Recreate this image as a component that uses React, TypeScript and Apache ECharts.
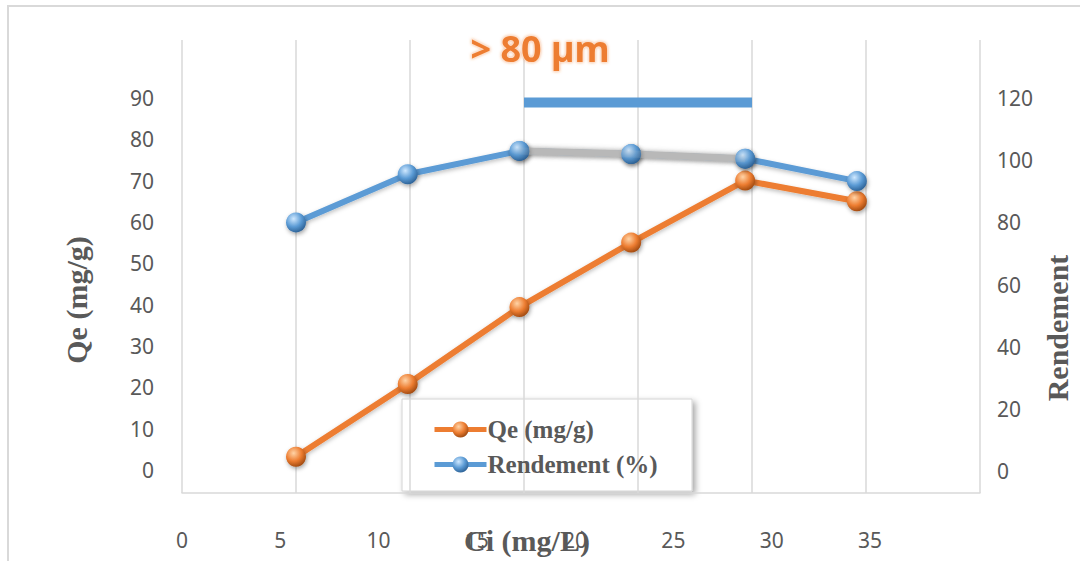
import React, { useEffect, useRef } from "react";
import * as echarts from "echarts";

const ciValues = [5, 9.9, 14.8, 19.7, 24.7, 29.6];
const qeValues = [3.2, 20.8, 39.4, 55, 70, 65];
const rendementValues = [80, 95.5, 103, 102, 100.5, 93.3];
const greySegment = [2, 3, 4]; // indices of Rendement points joined by the grey segment
const leftTicks = [0, 10, 20, 30, 40, 50, 60, 70, 80, 90];
const rightTicks = [0, 20, 40, 60, 80, 100, 120];
const xTicks = [0, 5, 10, 15, 20, 25, 30, 35];
const xLabelAxisMax = 40.6; // the printed tick labels run on a compressed scale
const bandRange = [15, 25];
const bandLevel = 118.6;
const titleText = "> 80 µm";
const xTitle = "Ci (mg/L)";
const leftTitle = "Qe (mg/g)";
const rightTitle = "Rendement";
const qeName = "Qe (mg/g)";
const rendName = "Rendement (%)";

const sphere = (light: string, mid: string, dark: string) => ({
  type: "radial",
  x: 0.38,
  y: 0.32,
  r: 0.72,
  colorStops: [
    { offset: 0, color: light },
    { offset: 0.55, color: mid },
    { offset: 1, color: dark },
  ],
});

const orangeBall = sphere("#ffd3a6", "#ed7d31", "#9c470f");
const blueBall = sphere("#cfe8ff", "#5b9bd5", "#2b5f93");

export default function App() {
  const ref = useRef<HTMLDivElement>(null);
  useEffect(() => {
    if (!ref.current) return;
    const chart = echarts.init(ref.current, undefined, { renderer: "svg" });
    const qeData = ciValues.map((x, i) => [x, qeValues[i]]);
    const rendData = ciValues.map((x, i) => [x, rendementValues[i]]);
    const greyData = greySegment.map((i) => [ciValues[i], rendementValues[i]]);
    const tickFont = { color: "#595959", fontSize: 21, fontFamily: "Noto Sans" };
    const titleFont = {
      fill: "#595959",
      font: "bold 30px 'Liberation Serif'",
      align: "center",
      verticalAlign: "middle",
    };
    const ballStyle = (c: any) => ({
      color: c,
      shadowColor: "rgba(0,0,0,0.35)",
      shadowBlur: 4,
      shadowOffsetX: 1,
      shadowOffsetY: 2,
    });
    const lineShadow = {
      width: 6,
      shadowColor: "rgba(0,0,0,0.25)",
      shadowBlur: 4,
      shadowOffsetY: 2,
    };
    chart.setOption({
      animation: false,
      backgroundColor: "#ffffff",
      title: {
        text: titleText,
        left: "center",
        top: 25,
        textStyle: {
          color: "#ED7D31",
          fontSize: 36,
          fontWeight: "bold",
          fontFamily: "Noto Sans",
          textBorderColor: "rgba(255,225,200,0.95)",
          textBorderWidth: 1.2,
          textShadowColor: "rgba(237,125,49,0.6)",
          textShadowBlur: 3,
        },
      },
      grid: { left: 182, right: 100, top: 40, bottom: 68 },
      xAxis: [
        {
          type: "value",
          min: 0,
          max: 35,
          interval: 5,
          axisLabel: { show: false },
          axisTick: { show: false },
          axisLine: { show: true, onZero: false, lineStyle: { color: "#d9d9d9", width: 1.5 } },
          splitLine: { show: true, lineStyle: { color: "#d9d9d9", width: 1.5 } },
        },
        {
          type: "value",
          position: "bottom",
          offset: 28,
          min: 0,
          max: xLabelAxisMax,
          axisLine: { show: false, onZero: false },
          axisTick: { show: false },
          splitLine: { show: false },
          axisLabel: { ...tickFont, margin: 8, customValues: xTicks },
        },
      ],
      yAxis: [
        {
          type: "value",
          min: -5.56,
          max: 104,
          axisLine: { show: false },
          axisTick: { show: false },
          splitLine: { show: false },
          axisLabel: { ...tickFont, margin: 28, customValues: leftTicks },
        },
        {
          type: "value",
          position: "right",
          min: -7.08,
          max: 138.7,
          axisLine: { show: false },
          axisTick: { show: false },
          splitLine: { show: false },
          axisLabel: { ...tickFont, margin: 17, customValues: rightTicks },
        },
      ],
      legend: {
        data: [qeName, rendName],
        orient: "vertical",
        left: 402,
        top: 399,
        itemWidth: 52,
        itemHeight: 20,
        itemGap: 10,
        padding: [18, 24, 16, 30],
        backgroundColor: "transparent",
        lineStyle: { width: 5 },
        textStyle: {
          fontFamily: "Liberation Serif",
          fontWeight: "bold",
          fontSize: 25,
          lineHeight: 25,
          color: "#595959",
          padding: [0, 0, 0, -4],
        },
      },
      graphic: [
        {
          type: "rect",
          silent: true,
          z: -10,
          shape: { x: 8, y: 6, width: 1200, height: 700 },
          style: { fill: "none", stroke: "#d9d9d9", lineWidth: 2 },
        },
        {
          type: "rect",
          silent: true,
          z: -10,
          shape: { x: 402, y: 399, width: 290, height: 92 },
          style: {
            fill: "#ffffff",
            stroke: "#d4d4d4",
            lineWidth: 1,
            shadowColor: "rgba(0,0,0,0.35)",
            shadowBlur: 6,
            shadowOffsetX: 3,
            shadowOffsetY: 3,
          },
        },
        {
          type: "text",
          x: 76,
          y: 300,
          rotation: Math.PI / 2,
          style: { text: leftTitle, ...titleFont },
        },
        {
          type: "text",
          x: 1057,
          y: 328,
          rotation: Math.PI / 2,
          style: { text: rightTitle, ...titleFont },
        },
        {
          type: "text",
          x: 527,
          y: 540,
          style: { text: xTitle, ...titleFont },
        },
      ],
      series: [
        {
          name: "band",
          type: "line",
          xAxisIndex: 0,
          yAxisIndex: 1,
          data: bandRange.map((x) => [x, bandLevel]),
          symbol: "none",
          silent: true,
          lineStyle: { color: "#5B9BD5", width: 10, cap: "butt" },
          z: 2,
        },
        {
          name: qeName,
          type: "line",
          xAxisIndex: 0,
          yAxisIndex: 0,
          data: qeData,
          symbol: "circle",
          symbolSize: 20,
          color: "#ED7D31",
          lineStyle: { color: "#ED7D31", ...lineShadow },
          itemStyle: ballStyle(orangeBall),
          z: 3,
        },
        {
          name: rendName,
          type: "line",
          xAxisIndex: 0,
          yAxisIndex: 1,
          data: rendData,
          symbol: "circle",
          symbolSize: 20,
          color: "#5B9BD5",
          lineStyle: { color: "#5B9BD5", ...lineShadow },
          itemStyle: ballStyle(blueBall),
          z: 3,
        },
        {
          name: "grey",
          type: "line",
          xAxisIndex: 0,
          yAxisIndex: 1,
          data: greyData,
          symbol: "none",
          silent: true,
          lineStyle: {
            color: "#b8b8b8",
            width: 7,
            shadowColor: "rgba(120,120,120,0.6)",
            shadowBlur: 5,
          },
          z: 4,
        },
        {
          name: "greyMarkers",
          type: "scatter",
          xAxisIndex: 0,
          yAxisIndex: 1,
          data: greyData,
          symbol: "circle",
          symbolSize: 20,
          itemStyle: ballStyle(blueBall),
          z: 5,
        },
      ],
    });
    return () => chart.dispose();
  }, []);
  return (
    <div
      ref={ref}
      style={{ position: "absolute", left: 0, top: 0, width: 1080, height: 561 }}
    />
  );
}
